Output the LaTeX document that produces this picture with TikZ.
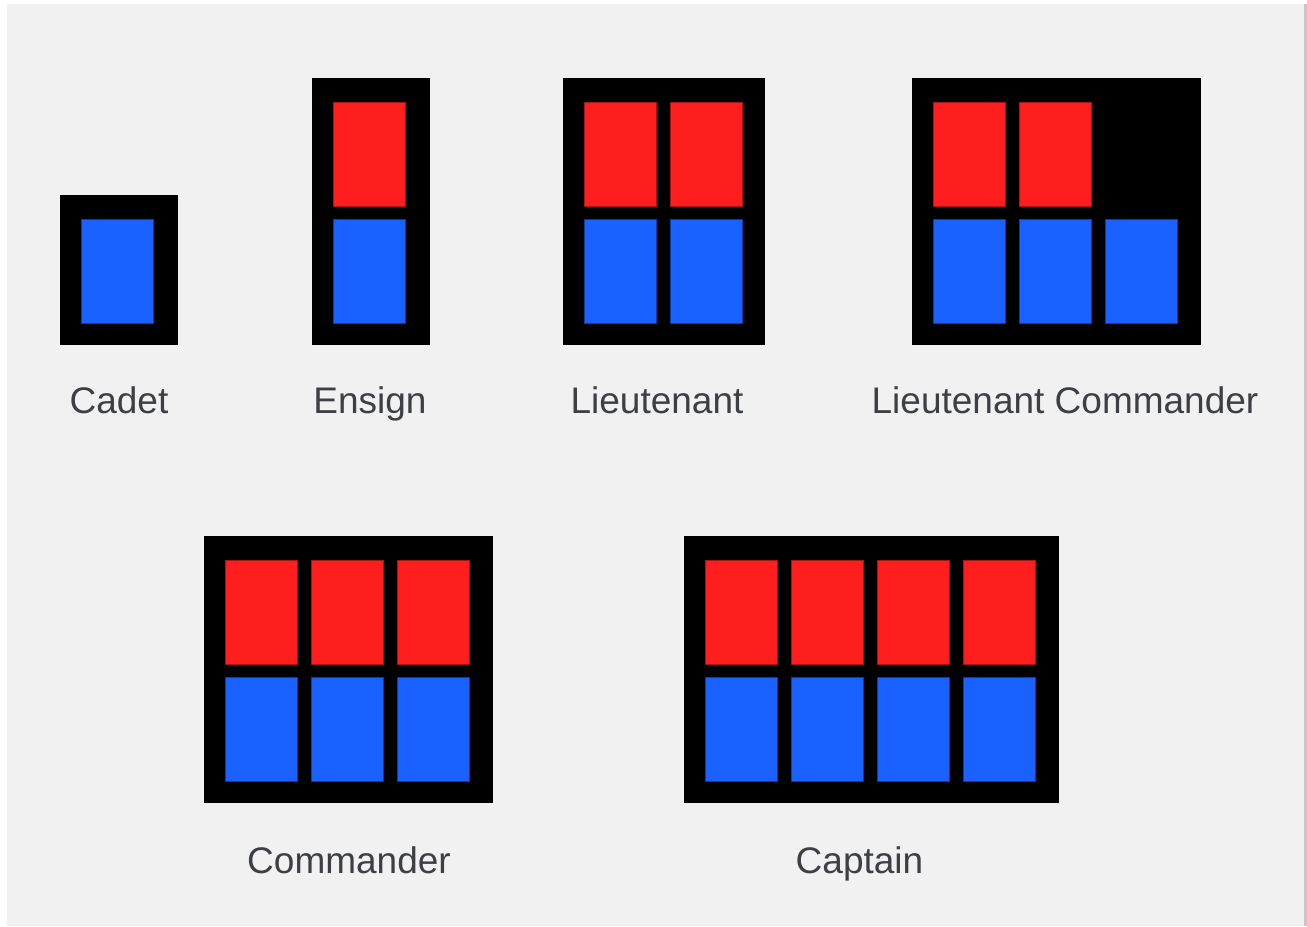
\documentclass[tikz,border=0pt]{standalone}
\usepackage{fontspec}
\setmainfont{Liberation Sans}
\definecolor{bg}{HTML}{F1F1F1}
\definecolor{rk}{HTML}{FF1E1E}
\definecolor{bk}{HTML}{1A62FF}
\definecolor{txt}{HTML}{3C4046}
\tikzset{
  rankbox/.style={fill=black, draw=none, anchor=north west, inner sep=0pt, outer sep=0pt},
  cellbase/.style={anchor=north west, minimum width=72bp, minimum height=103.5bp, inner sep=0pt, outer sep=0pt, line width=0.9bp},
  redcell/.style={cellbase, fill=rk, draw=rk!65!black},
  bluecell/.style={cellbase, fill=bk, draw=bk!60!black},
  ranklabel/.style={text=txt, font=\fontsize{37bp}{42bp}\selectfont, anchor=base, inner sep=0pt}
}
\begin{document}
\begin{tikzpicture}[x=1bp,y=-1bp]
\useasboundingbox (0,0) rectangle (1307,926);
\fill[white] (0,0) rectangle (1307,926);
\fill[black!22] (1303,4) rectangle (1307.5,926);
\fill[bg] (7,4) rectangle (1304,926);

% Cadet
\node[rankbox, minimum width=118bp, minimum height=150bp] (cadet) at (60,195) {};
\node[bluecell] (cadet-b1) at (81.5,219.5) {};
\node[ranklabel] (cadet-l) at (119,413) {Cadet};

% Ensign
\node[rankbox, minimum width=118bp, minimum height=267bp] (ensign) at (312,78) {};
\node[redcell] (ensign-r1) at (333.5,102.5) {};
\node[bluecell] (ensign-b1) at (333.5,219.5) {};
\node[ranklabel] (ensign-l) at (370,413) {Ensign};

% Lieutenant
\node[rankbox, minimum width=202bp, minimum height=267bp] (lt) at (563,78) {};
\foreach \i in {0,1} {
  \node[redcell] (lt-r\i) at ({584.5+86*\i},102.5) {};
  \node[bluecell] (lt-b\i) at ({584.5+86*\i},219.5) {};
}
\node[ranklabel] (lt-l) at (657,413) {Lieutenant};

% Lieutenant Commander
\node[rankbox, minimum width=289bp, minimum height=267bp] (ltc) at (912,78) {};
\foreach \i in {0,1} {
  \node[redcell] (ltc-r\i) at ({933.5+86*\i},102.5) {};
}
\foreach \i in {0,1,2} {
  \node[bluecell] (ltc-b\i) at ({933.5+86*\i},219.5) {};
}
\node[ranklabel] (ltc-l) at (1065,413) {Lieutenant Commander};

% Commander
\node[rankbox, minimum width=289bp, minimum height=267bp] (cmd) at (204,536) {};
\foreach \i in {0,1,2} {
  \node[redcell] (cmd-r\i) at ({225.5+86*\i},560.5) {};
  \node[bluecell] (cmd-b\i) at ({225.5+86*\i},677.5) {};
}
\node[ranklabel] (cmd-l) at (349,873) {Commander};

% Captain
\node[rankbox, minimum width=375bp, minimum height=267bp] (cpt) at (684,536) {};
\foreach \i in {0,1,2,3} {
  \node[redcell] (cpt-r\i) at ({705.5+86*\i},560.5) {};
  \node[bluecell] (cpt-b\i) at ({705.5+86*\i},677.5) {};
}
\node[ranklabel] (cpt-l) at (859.5,873) {Captain};
\end{tikzpicture}
\end{document}
